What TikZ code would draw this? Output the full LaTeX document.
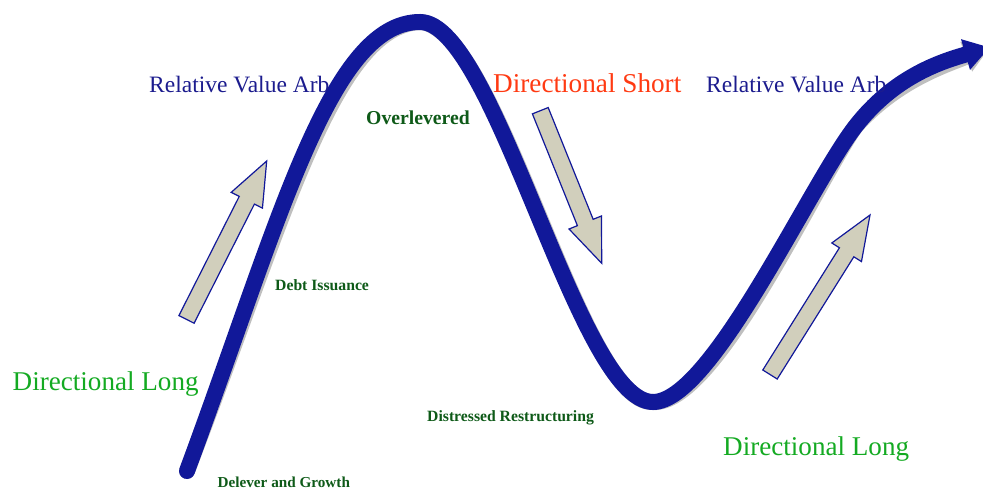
\documentclass[tikz,border=0pt]{standalone}
\usepackage{fontspec}
\setmainfont{Liberation Serif}
\usetikzlibrary{arrows.meta,calc}
\definecolor{curveblue}{HTML}{111899}
\definecolor{textblue}{HTML}{1C1C8E}
\definecolor{shortred}{HTML}{FF3A12}
\definecolor{longgreen}{HTML}{14AA22}
\definecolor{darkgreen}{HTML}{0E5A18}
\definecolor{arrfill}{HTML}{D1CFBC}
\definecolor{shadowgray}{HTML}{BFBFBF}
\tikzset{
  wave/.style={line width=16pt, line cap=round,
    -{Triangle[length=25pt,width=32pt,line width=0pt]}},
  blockarr/.style={draw=curveblue, fill=arrfill, line width=1.2pt, line join=miter},
  lbl/.style={anchor=base west, inner sep=0pt},
  rva/.style={lbl, text=textblue, font=\fontsize{23.5}{23.5}\selectfont},
  dshort/.style={lbl, text=shortred, font=\fontsize{27.2}{27}\selectfont},
  dlong/.style={lbl, text=longgreen, font=\fontsize{27.1}{27}\selectfont},
  stage/.style={lbl, text=darkgreen, font=\bfseries\fontsize{#1}{#1}\selectfont},
}
\newcommand\blockarrow[3]{%
  \coordinate (#1h) at ($(#3)!44pt!(#2)$);
  \draw[blockarr] ($(#2)!8.5pt!90:(#3)$) -- ($(#1h)!8.5pt!90:(#3)$)
    -- ($(#1h)!17.5pt!90:(#3)$) -- (#3) -- ($(#1h)!17.5pt!-90:(#3)$)
    -- ($(#1h)!8.5pt!-90:(#3)$) -- ($(#2)!8.5pt!-90:(#3)$) -- cycle;}
\begin{document}
\begin{tikzpicture}[x=1pt,y=-1pt]
\useasboundingbox (0,0) rectangle (983,490);
\clip (0,0) rectangle (983,490);
% curve path points
\coordinate (s) at (187,471);
\coordinate (pk) at (420,22);
\coordinate (tr) at (653,402);
\coordinate (mid) at (855,127);
\coordinate (e) at (989.5,47.5);
% shadow
\draw[wave, shadowgray, shift={(3,4)}] (s) .. controls (279.5,221) and (330,22) .. (pk)
  .. controls (495,22) and (578,402) .. (tr)
  .. controls (711,402) and (808.8,187) .. (mid)
  .. controls (893.5,77) and (940,62) .. (e);
% curve
\draw[wave, curveblue] (s) .. controls (279.5,221) and (330,22) .. (pk)
  .. controls (495,22) and (578,402) .. (tr)
  .. controls (711,402) and (808.8,187) .. (mid)
  .. controls (893.5,77) and (940,62) .. (e);
% block arrows
\coordinate (a1t) at (186.5,319.4);
\coordinate (a1b) at (266.7,161);
\coordinate (a2t) at (540.3,110.7);
\coordinate (a2b) at (601.7,263.3);
\coordinate (a3t) at (770,374.5);
\coordinate (a3b) at (870,215);
\blockarrow{a1}{a1t}{a1b}
\blockarrow{a2}{a2t}{a2b}
\blockarrow{a3}{a3t}{a3b}
% labels
\node[rva] (rva1) at (149,92) {Relative Value Arb};
\node[rva] (rva2) at (706,92) {Relative Value Arb};
\node[dshort] (ds) at (493,92) {Directional Short};
\node[dlong] (dl1) at (12.5,390) {Directional Long};
\node[dlong] (dl2) at (723,455) {Directional Long};
\node[stage=19.7] (ov) at (366,124) {Overlevered};
\node[stage=15.7] (di) at (275,290) {Debt Issuance};
\node[stage=15.7] (dr) at (427,421.5) {Distressed Restructuring};
\node[stage=15.2] (dg) at (217.5,487.5) {Delever and Growth};
\end{tikzpicture}
\end{document}
